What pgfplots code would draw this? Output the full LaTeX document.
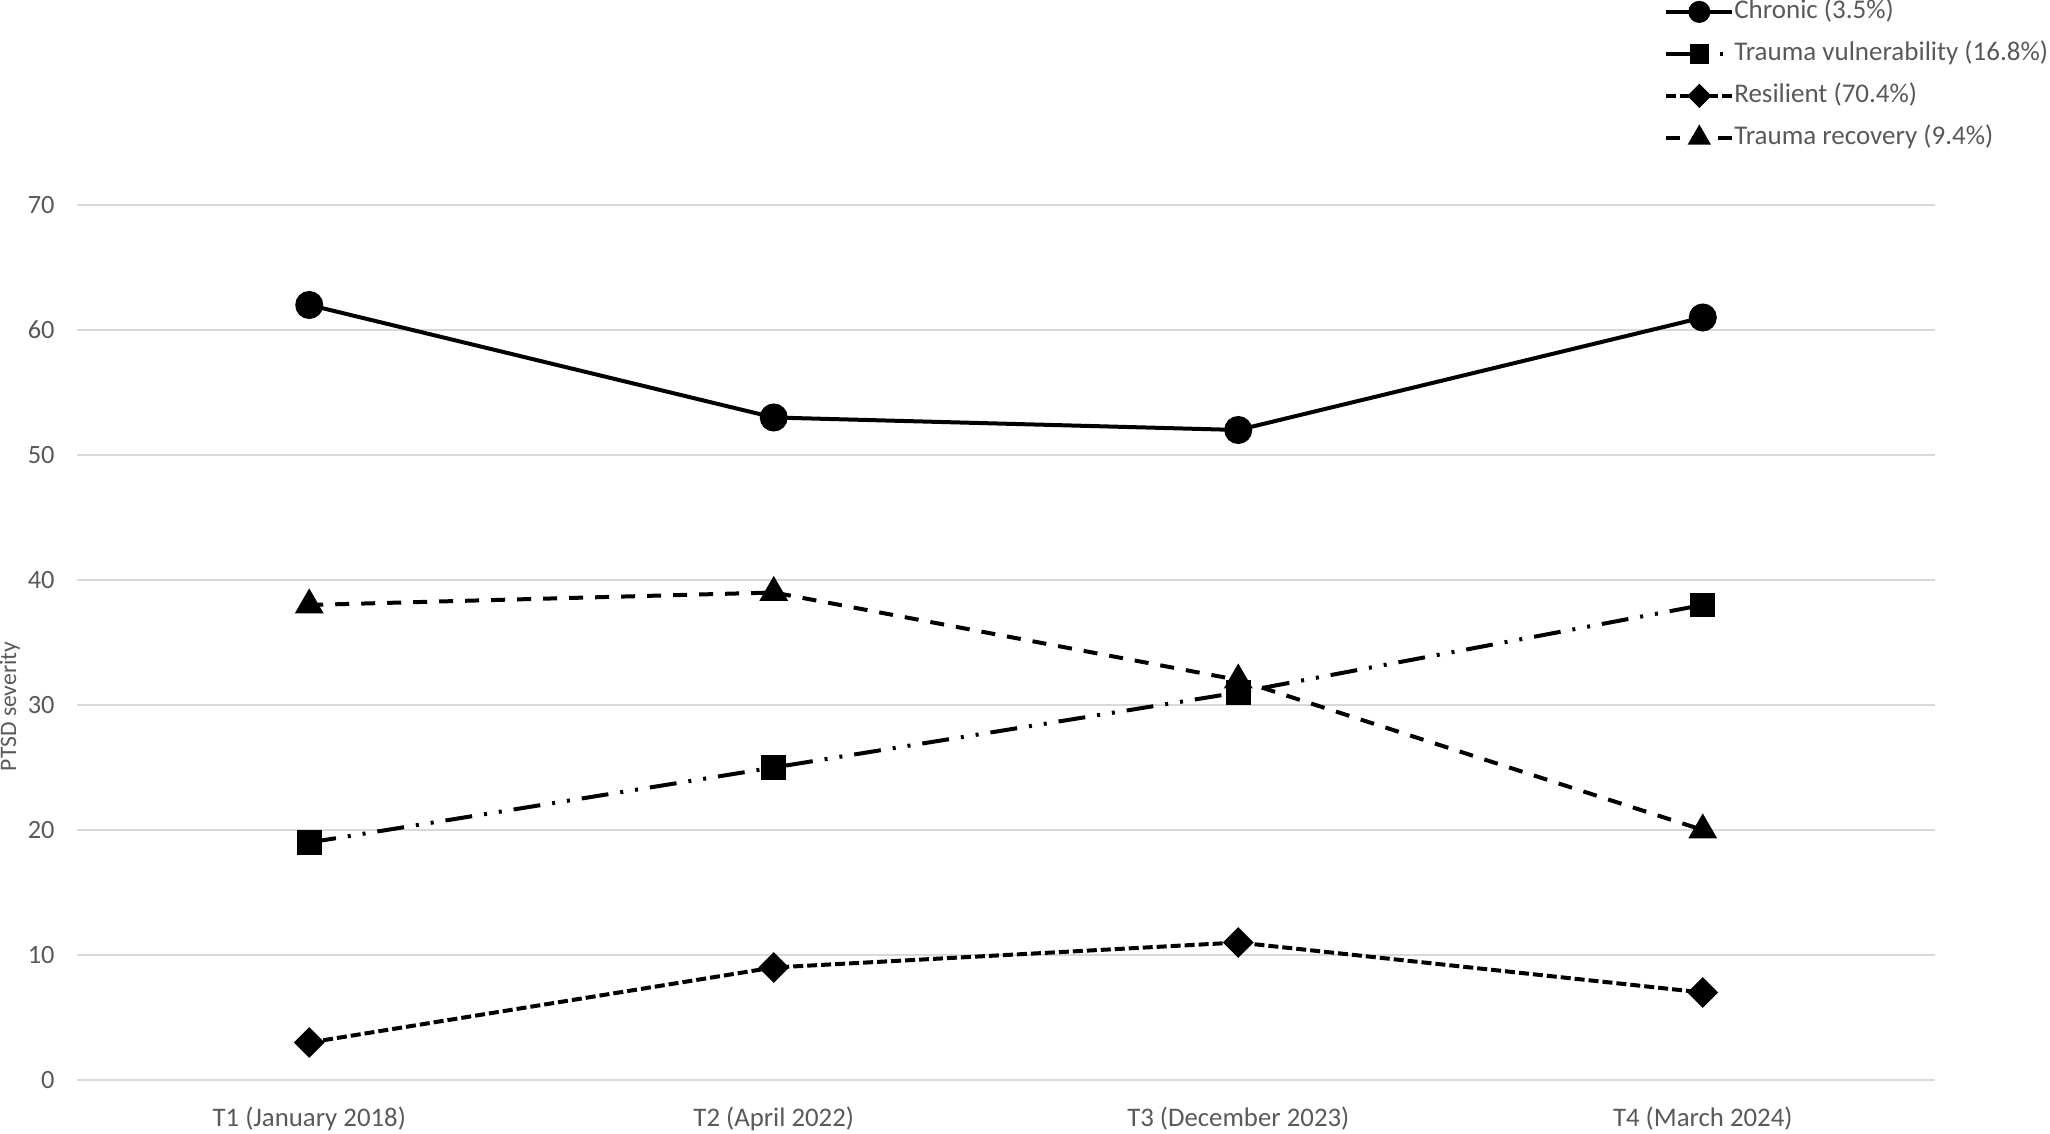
\documentclass[border=0pt]{standalone}
\usepackage{fontspec}
\setmainfont{Carlito}
\usepackage{pgfplots}
\pgfplotsset{compat=1.18}
\definecolor{txt}{HTML}{595959}
\definecolor{grd}{HTML}{D9D9D9}
\begin{document}
\begin{tikzpicture}
\begin{axis}[
  scale only axis,
  width=929pt, height=437.5pt,
  at={(0,0)}, anchor=south west,
  xmin=-0.5, xmax=3.5, ymin=0, ymax=70,
  xtick={0,1,2,3},
  xticklabels={T1 (January 2018),T2 (April 2022),T3 (December 2023),T4 (March 2024)},
  ytick={0,10,...,70},
  ymajorgrids, grid style={grd, line width=0.75pt},
  axis line style={draw=none}, tick style={draw=none},
  clip=false,
  /pgf/number format/assume math mode=true,
  ticklabel style={font=\fontsize{13.2}{15}\selectfont, text=txt},
  yticklabel style={anchor=east, inner sep=0pt, xshift=-11pt},
  xticklabel style={anchor=base, inner sep=0pt, yshift=-23.5pt, font=\fontsize{13.4}{15}\selectfont},
  ylabel={PTSD severity},
  every axis y label/.style={at={(axis description cs:-0.0361,0.427)}, rotate=90, anchor=center, font=\fontsize{11.8}{13}\selectfont, text=txt},
  legend style={draw=none, fill=none, at={(axis description cs:0.8541,1.2360)}, anchor=north west, inner sep=0pt, row sep=8pt, column sep=0pt,
    font=\fontsize{13.5}{15}\selectfont, text=txt,
    nodes={inner sep=0pt, text height=10pt, text depth=3pt}},
  legend cell align=left,
  /tikz/every even column/.append style={column sep=2.5pt},
  legend image code/.code={\draw[mark repeat=2, mark phase=2, #1, every mark/.append style={scale=0.75}] plot coordinates {(0pt,0pt) (16.5pt,0pt) (33pt,0pt)};},
]
\addplot[black, line width=2pt, mark=*, mark size=6pt, mark options={solid}]
  coordinates {(0,62) (1,53) (2,52) (3,61)};
\addlegendentry{Chronic (3.5\%)}
\addplot[black, line width=2pt, dash pattern=on 13.5pt off 6pt on 1.5pt off 6pt on 1.5pt off 6pt, mark=square*, mark size=5.2pt, mark options={solid}]
  coordinates {(0,19) (1,25) (2,31) (3,38)};
\addlegendentry{Trauma vulnerability (16.8\%)}
\addplot[black, line width=2pt, dash pattern=on 5pt off 2pt, mark=square*, mark size=4.4pt, mark options={solid, rotate=45}]
  coordinates {(0,3) (1,9) (2,11) (3,7)};
\addlegendentry{Resilient (70.4\%)}
\addplot[black, line width=2pt, dash pattern=on 7pt off 6pt, mark=triangle*, mark size=6.3pt, mark options={solid}]
  coordinates {(0,38) (1,39) (2,32) (3,20)};
\addlegendentry{Trauma recovery (9.4\%)}
\end{axis}
\pgfresetboundingbox
\path[use as bounding box] (-38.5pt,-27pt) rectangle (986.5pt,540pt);
\end{tikzpicture}
\end{document}
